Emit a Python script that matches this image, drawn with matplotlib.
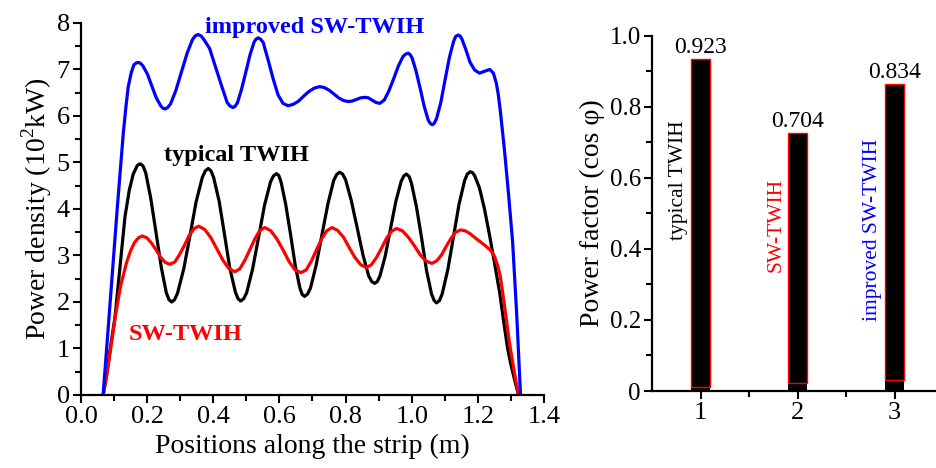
import matplotlib
matplotlib.use('Agg')
import matplotlib.pyplot as plt
from matplotlib.ticker import MultipleLocator, FixedLocator, FormatStrFormatter

plt.rcParams['font.family'] = ['Liberation Serif', 'DejaVu Serif']
plt.rcParams['mathtext.fontset'] = 'custom'
plt.rcParams['mathtext.rm'] = 'Liberation Serif'

# power density along the strip (10^2 kW)
x_typ = [0.067, 0.078, 0.088, 0.103, 0.118, 0.133, 0.146, 0.158, 0.17, 0.175, 0.18, 0.188,
         0.196, 0.211, 0.227, 0.243, 0.258, 0.266, 0.274, 0.283,
         0.292, 0.311, 0.33, 0.348, 0.367, 0.376, 0.385, 0.393,
         0.401, 0.418, 0.434, 0.45, 0.467, 0.475, 0.483, 0.492,
         0.501, 0.519, 0.537, 0.555, 0.573, 0.582, 0.591, 0.598,
         0.605, 0.619, 0.634, 0.648, 0.662, 0.669, 0.676, 0.685,
         0.694, 0.711, 0.729, 0.747, 0.764, 0.773, 0.782, 0.791,
         0.8, 0.817, 0.835, 0.853, 0.87, 0.879, 0.888, 0.896,
         0.904, 0.92, 0.936, 0.952, 0.968, 0.976, 0.984, 0.992,
         0.999, 1.014, 1.03, 1.045, 1.06, 1.068, 1.075, 1.084,
         1.092, 1.109, 1.126, 1.143, 1.16, 1.168, 1.177, 1.184,
         1.19, 1.205, 1.22, 1.235, 1.25, 1.266, 1.278, 1.29, 1.3, 1.312, 1.323]
y_typ = [0, 0.45, 0.97, 1.68, 2.75, 3.83, 4.4, 4.75, 4.93, 4.96, 4.97, 4.92,
         4.77, 4.23, 3.49, 2.74, 2.2, 2.05, 2.0, 2.05,
         2.19, 2.72, 3.44, 4.15, 4.68, 4.82, 4.87, 4.82,
         4.68, 4.16, 3.45, 2.73, 2.21, 2.07, 2.02, 2.07,
         2.2, 2.71, 3.39, 4.08, 4.58, 4.71, 4.76, 4.72,
         4.58, 4.1, 3.44, 2.78, 2.3, 2.16, 2.12, 2.17,
         2.3, 2.79, 3.46, 4.12, 4.61, 4.74, 4.79, 4.75,
         4.63, 4.19, 3.6, 3.0, 2.56, 2.44, 2.4, 2.44,
         2.56, 2.99, 3.58, 4.16, 4.59, 4.71, 4.75, 4.7,
         4.56, 4.06, 3.37, 2.67, 2.17, 2.03, 1.98, 2.03,
         2.17, 2.69, 3.39, 4.1, 4.61, 4.75, 4.8, 4.78,
         4.72, 4.45, 4.0, 3.45, 2.85, 2.2, 1.58, 1.0, 0.65, 0.3, 0]

x_sw = [0.067, 0.075, 0.083, 0.094, 0.105, 0.12, 0.138, 0.15, 0.162, 0.174, 0.185,
        0.199, 0.213, 0.227, 0.241, 0.255, 0.269,
        0.284, 0.298, 0.313, 0.327, 0.342, 0.356,
        0.374, 0.392, 0.411, 0.429, 0.447, 0.465,
        0.48, 0.495, 0.511, 0.526, 0.541, 0.556,
        0.574, 0.592, 0.611, 0.629, 0.647, 0.665,
        0.681, 0.696, 0.712, 0.728, 0.743, 0.759,
        0.776, 0.794, 0.811, 0.828, 0.846, 0.863,
        0.878, 0.893, 0.909, 0.924, 0.939, 0.954,
        0.972, 0.99, 1.008, 1.025, 1.043, 1.061,
        1.075, 1.09, 1.104, 1.119, 1.133, 1.148,
        1.162, 1.176, 1.19, 1.208, 1.226, 1.24, 1.251, 1.26, 1.268, 1.28, 1.295, 1.31, 1.323]
y_sw = [0, 0.3, 0.66, 1.2, 1.74, 2.35, 2.85, 3.1, 3.28, 3.38, 3.42,
        3.38, 3.27, 3.12, 2.96, 2.85, 2.81,
        2.86, 3.02, 3.22, 3.43, 3.58, 3.63,
        3.56, 3.39, 3.14, 2.9, 2.72, 2.65,
        2.71, 2.89, 3.13, 3.36, 3.54, 3.6,
        3.53, 3.36, 3.12, 2.87, 2.69, 2.63,
        2.69, 2.87, 3.12, 3.36, 3.53, 3.6,
        3.54, 3.39, 3.17, 2.96, 2.8, 2.74,
        2.8, 2.95, 3.16, 3.37, 3.52, 3.58,
        3.53, 3.39, 3.21, 3.02, 2.88, 2.83,
        2.88, 3.01, 3.19, 3.37, 3.5, 3.55,
        3.53, 3.47, 3.39, 3.29, 3.19, 3.1, 2.97, 2.78, 2.55, 1.95, 1.15, 0.5, 0]

x_imp = [0.067, 0.08, 0.095, 0.11, 0.122, 0.128, 0.136, 0.143, 0.152, 0.16, 0.167, 0.174, 0.18,
         0.187, 0.201, 0.214, 0.227, 0.241, 0.247, 0.254, 0.262,
         0.271, 0.287, 0.304, 0.321, 0.337, 0.345, 0.354, 0.363,
         0.372, 0.389, 0.407, 0.425, 0.442, 0.451, 0.46, 0.466,
         0.473, 0.485, 0.498, 0.511, 0.523, 0.529, 0.536, 0.543,
         0.551, 0.566, 0.581, 0.596, 0.611, 0.626,
         0.642, 0.658, 0.674, 0.69, 0.706, 0.722,
         0.736, 0.751, 0.765, 0.779, 0.794, 0.808,
         0.82, 0.833, 0.846, 0.858, 0.869, 0.88, 0.892, 0.903,
         0.917, 0.931, 0.946, 0.96, 0.974, 0.982, 0.989, 0.995,
         1.001, 1.013, 1.026, 1.038, 1.05, 1.056, 1.062, 1.068,
         1.075, 1.088, 1.101, 1.114, 1.127, 1.133, 1.14, 1.146,
         1.152, 1.164, 1.176, 1.19, 1.205, 1.22, 1.236, 1.247, 1.256, 1.262, 1.268,
         1.28, 1.293, 1.305, 1.317, 1.329]
y_imp = [0, 1.22, 2.63, 4.04, 5.1, 5.63, 6.2, 6.63, 6.93, 7.1, 7.14, 7.15, 7.13,
         7.08, 6.9, 6.65, 6.4, 6.22, 6.17, 6.15, 6.18,
         6.26, 6.55, 6.95, 7.35, 7.64, 7.72, 7.75, 7.72,
         7.64, 7.45, 7.05, 6.65, 6.29, 6.21, 6.18, 6.21,
         6.28, 6.56, 6.93, 7.31, 7.58, 7.65, 7.68, 7.65,
         7.58, 7.2, 6.8, 6.45, 6.27, 6.22,
         6.25, 6.32, 6.43, 6.53, 6.6, 6.63,
         6.61, 6.55, 6.47, 6.39, 6.33, 6.31,
         6.32, 6.355, 6.39, 6.4, 6.39, 6.34, 6.29, 6.27,
         6.34, 6.54, 6.81, 7.08, 7.28, 7.33, 7.35, 7.32,
         7.25, 6.97, 6.58, 6.2, 5.91, 5.84, 5.81, 5.84,
         5.94, 6.29, 6.78, 7.26, 7.61, 7.71, 7.74, 7.72,
         7.65, 7.42, 7.16, 6.99, 6.92, 6.96, 7.0, 6.92, 6.7, 6.45, 6.1,
         5.3, 4.3, 3.3, 1.8, 0]

# power factor bars
bar_pos = [1, 2, 3]
pf = [0.923, 0.704, 0.834]
pf_base = [0.011, 0.022, 0.031]
pf_text = ['0.923', '0.704', '0.834']
bar_names = ['typical TWIH', 'SW-TWIH', 'improved SW-TWIH']
bar_colors = ['black', 'red', 'blue']
pf_ticks = [0, 0.2, 0.4, 0.6, 0.8, 1.0]
pf_ticklabels = ['0', '0.2', '0.4', '0.6', '0.8', '1.0']

fig = plt.figure(figsize=(9.36, 4.68), dpi=100)

#%% left: power density
ax = fig.add_axes([0.0865, 0.156, 0.4947, 0.795])
ax.plot(x_typ, y_typ, color='black', lw=2.3, solid_joinstyle='round')
ax.plot(x_sw, y_sw, color='red', lw=2.3, solid_joinstyle='round')
ax.plot(x_imp, y_imp, color='blue', lw=2.3, solid_joinstyle='round')
ax.set_xlim(0, 1.4)
ax.set_ylim(0, 8)
for s in ['top', 'right']:
    ax.spines[s].set_visible(False)
for s in ['left', 'bottom']:
    ax.spines[s].set_linewidth(1.6)
ax.xaxis.set_major_locator(MultipleLocator(0.2))
ax.xaxis.set_minor_locator(MultipleLocator(0.1))
ax.xaxis.set_major_formatter(FormatStrFormatter('%.1f'))
ax.yaxis.set_major_locator(MultipleLocator(1))
ax.yaxis.set_minor_locator(MultipleLocator(0.5))
ax.tick_params(which='both', direction='out', width=1.5, labelsize=19, pad=2)
ax.tick_params(which='major', length=6)
ax.tick_params(which='minor', length=4)
ax.set_xlabel('Positions along the strip (m)', fontsize=20, labelpad=4)
ax.set_ylabel('Power density (10$^2$kW)', fontsize=20, labelpad=2)

ax.text(0.707, 7.91, 'improved SW-TWIH', color='blue', fontweight='bold',
        fontsize=17.5, ha='center', va='center')
ax.text(0.471, 5.14, 'typical TWIH', color='black', fontweight='bold',
        fontsize=17.5, ha='center', va='center')
ax.text(0.317, 1.29, 'SW-TWIH', color='red', fontweight='bold',
        fontsize=17.5, ha='center', va='center')

#%% right: power factor
ax2 = fig.add_axes([0.6966, 0.1645, 0.3109, 0.7596])
ax2.bar(bar_pos, pf_base, width=0.2, color='black')
ax2.bar(bar_pos, pf, width=0.2, bottom=pf_base, color='black',
        edgecolor='red', linewidth=1)
for xb, v, b, t in zip(bar_pos, pf, pf_base, pf_text):
    ax2.text(xb, v + b + 0.002, t, ha='center', va='bottom', fontsize=17)
name_y = [0.594, 0.467, 0.453]
for xb, n, c, yy in zip(bar_pos, bar_names, bar_colors, name_y):
    ax2.text(xb - 0.225, yy, n, color=c, rotation=90, ha='center',
             va='center', fontsize=15.5)
ax2.set_xlim(0.5, 3.5)
ax2.set_ylim(0, 1.0)
for s in ['top', 'right']:
    ax2.spines[s].set_visible(False)
for s in ['left', 'bottom']:
    ax2.spines[s].set_linewidth(1.6)
ax2.xaxis.set_major_locator(FixedLocator(bar_pos))
ax2.xaxis.set_minor_locator(FixedLocator([1.5, 2.5]))
ax2.set_yticks(pf_ticks, pf_ticklabels)
ax2.yaxis.set_minor_locator(MultipleLocator(0.1))
ax2.tick_params(which='both', direction='out', width=1.5, pad=2)
ax2.tick_params(axis='y', labelsize=18)
ax2.tick_params(axis='x', labelsize=19)
ax2.tick_params(which='major', length=6)
ax2.tick_params(which='minor', length=4)
ax2.set_ylabel('Power factor (cos \u03c6)', fontsize=20, labelpad=3)

plt.savefig('out.png', dpi=100)
